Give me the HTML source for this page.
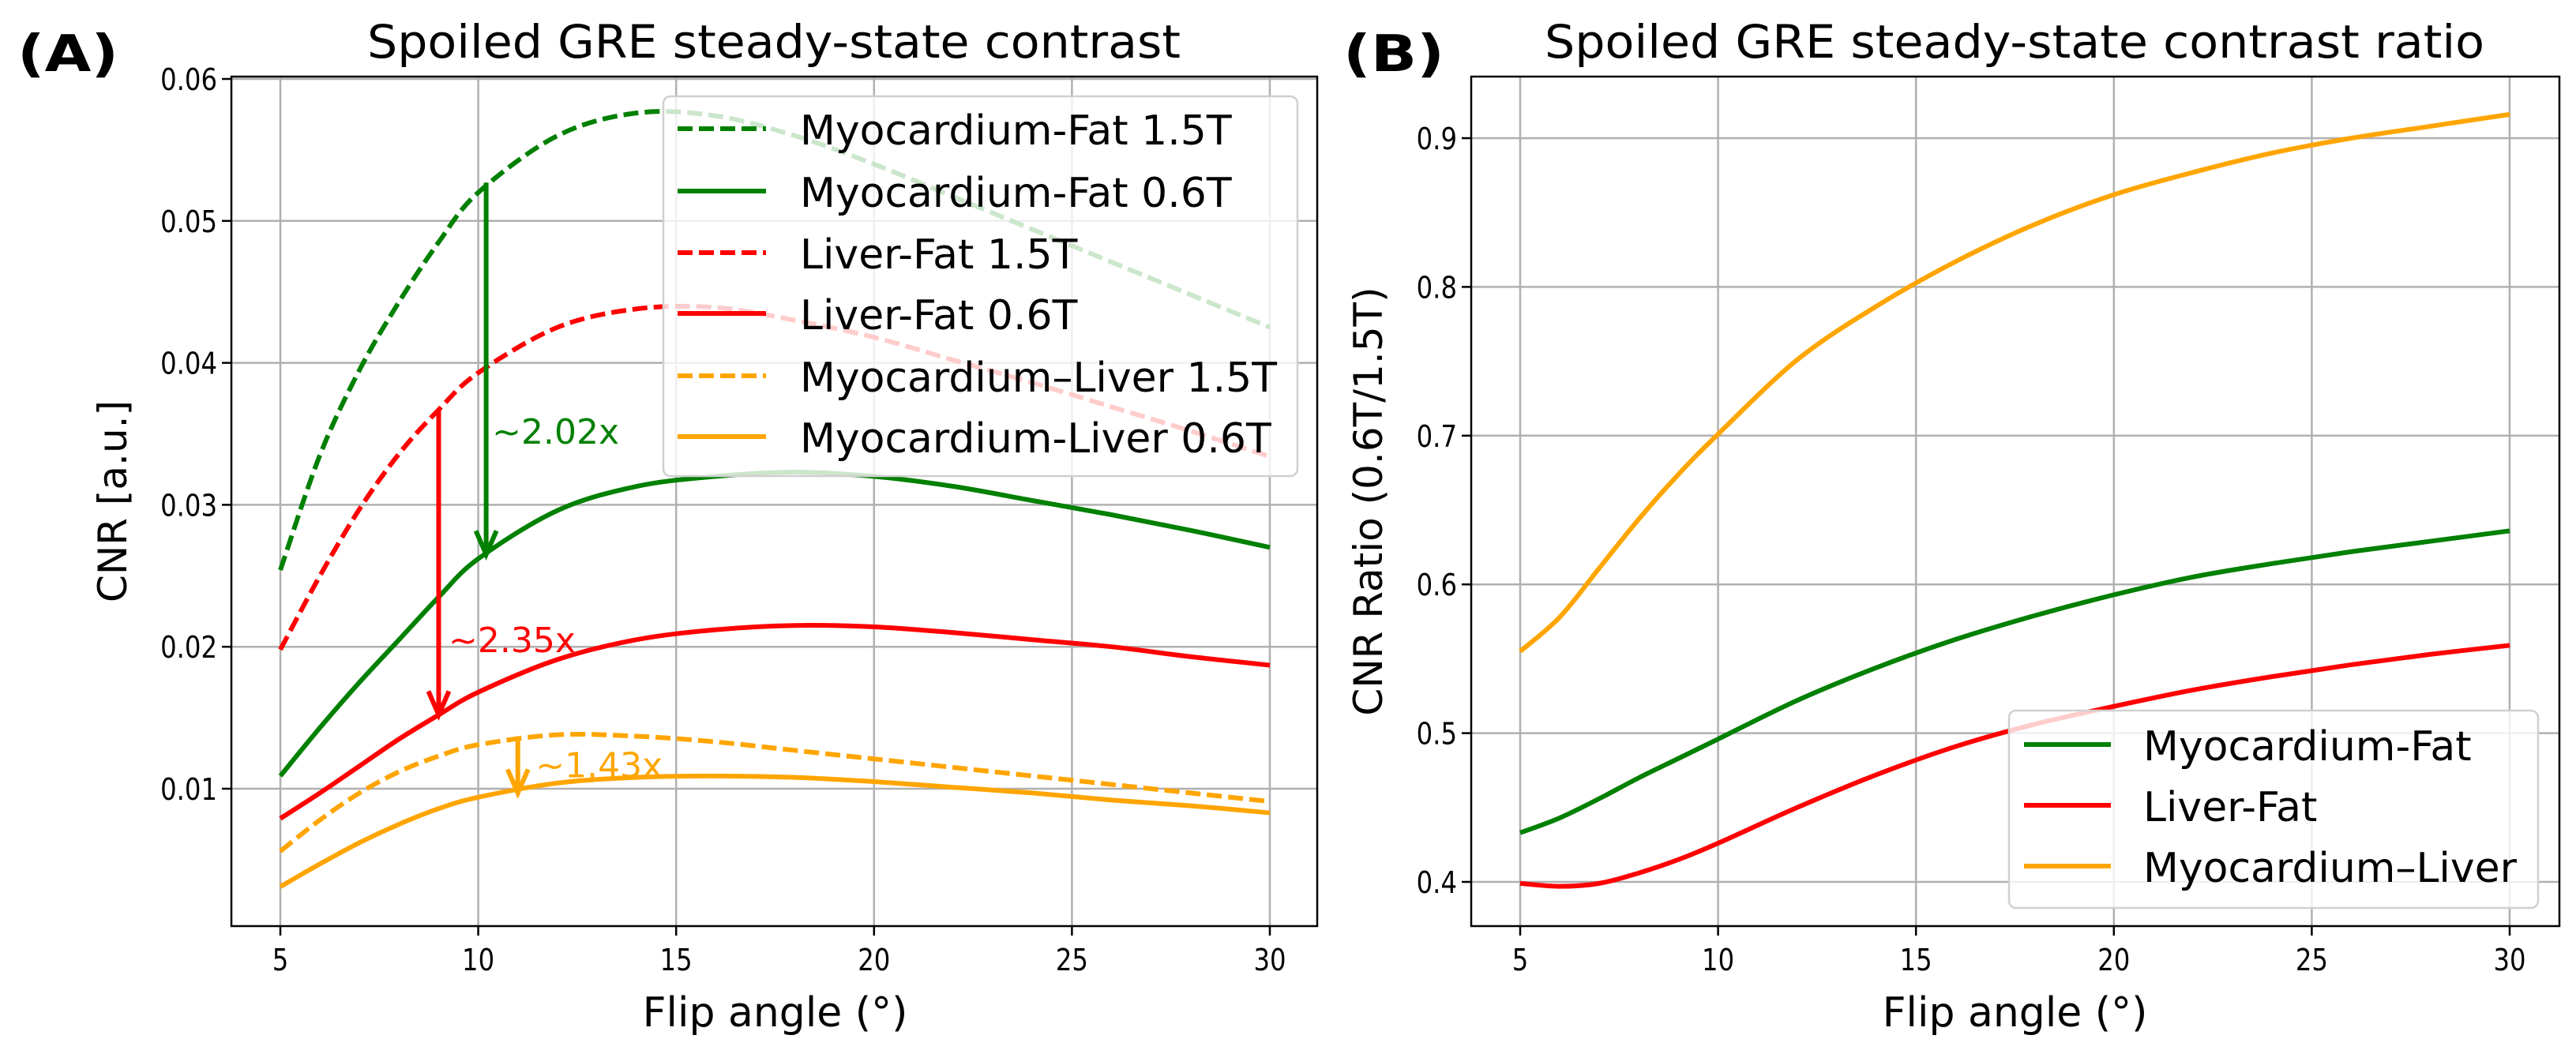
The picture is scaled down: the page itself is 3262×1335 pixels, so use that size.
<!DOCTYPE html>
<html><head><meta charset="utf-8"><style>
html,body{margin:0;padding:0;background:#fff}
svg{display:block;font-family:"DejaVu Sans","Liberation Sans",sans-serif}
</style></head><body>
<svg id="fig" width="3262" height="1335" viewBox="0 0 3262 1335" xmlns="http://www.w3.org/2000/svg">
<rect width="3262" height="1335" fill="#fff"/>
<g id="pa"></g>
<g id="pb"></g>
</svg>
<script>
// ---- data ----
const angles = [5,6,7,8,9,10,12,14,16,18,20,22,24,26,28,30];
const xTicks = [5,10,15,20,25,30];
const aYTicks = [0.01,0.02,0.03,0.04,0.05,0.06];
const aYTickLabels = ["0.01","0.02","0.03","0.04","0.05","0.06"];
const bYTicks = [0.4,0.5,0.6,0.7,0.8,0.9];
const bYTickLabels = ["0.4","0.5","0.6","0.7","0.8","0.9"];
const myoFat15 = [0.0254,0.0335,0.0395,0.0443,0.0485,0.0520,0.0560,0.0576,0.0574,0.0560,0.0540,0.0517,0.0494,0.0471,0.0448,0.0425];
const myoFat06 = [0.0109,0.0143,0.0175,0.0205,0.0235,0.0262,0.0296,0.0313,0.0320,0.0323,0.0320,0.0313,0.0303,0.0293,0.0282,0.0270];
const livFat15 = [0.0198,0.0250,0.0297,0.0336,0.0367,0.0393,0.0425,0.0438,0.0439,0.0430,0.0418,0.0402,0.0386,0.0369,0.0352,0.0334];
const livFat06 = [0.0079,0.0097,0.0116,0.0135,0.0152,0.0168,0.0191,0.0205,0.0212,0.0215,0.0214,0.0210,0.0205,0.0200,0.0193,0.0187];
const myoLiv15 = [0.0056,0.0078,0.0097,0.0112,0.0123,0.0131,0.0138,0.0137,0.0133,0.0127,0.0121,0.0115,0.0109,0.0103,0.0097,0.0091];
const myoLiv06 = [0.0031,0.0047,0.0062,0.0075,0.0086,0.0094,0.0104,0.0108,0.0109,0.0108,0.0105,0.0101,0.0097,0.0092,0.0088,0.0083];
const ratioMyoFat = [0.433,0.443,0.456,0.470,0.483,0.496,0.522,0.544,0.563,0.579,0.593,0.605,0.614,0.622,0.629,0.636];
const ratioLivFat = [0.399,0.397,0.399,0.406,0.415,0.426,0.450,0.472,0.491,0.506,0.518,0.529,0.538,0.546,0.553,0.559];
const ratioMyoLiv = [0.555,0.578,0.611,0.644,0.674,0.701,0.751,0.787,0.817,0.842,0.862,0.877,0.890,0.900,0.908,0.916];
const arrowX = [10.2, 9, 11];
const arrowFrom = [0.0527, 0.0367, 0.0137];
const arrowTo = [0.0265, 0.0152, 0.0097];
const arrowLabels = ["~2.02x","~2.35x","~1.43x"];
const arrowLabelX = [10.35, 9.25, 11.45];
const arrowLabelY = [0.0352, 0.0205, 0.0117];

const NS="http://www.w3.org/2000/svg";
function el(parent,tag,attrs,text){const e=document.createElementNS(NS,tag);for(const k in attrs)e.setAttribute(k,attrs[k]);if(text!==undefined)e.textContent=text;parent.appendChild(e);return e;}
function smoothPath(xs,ys){let d=`M${xs[0]},${ys[0]}`;for(let i=0;i<xs.length-1;i++){const x0=xs[Math.max(i-1,0)],y0=ys[Math.max(i-1,0)],x1=xs[i],y1=ys[i],x2=xs[i+1],y2=ys[i+1],x3=xs[Math.min(i+2,xs.length-1)],y3=ys[Math.min(i+2,xs.length-1)];d+=` C${x1+(x2-x0)/6},${y1+(y2-y0)/6} ${x2-(x3-x1)/6},${y2-(y3-y1)/6} ${x2},${y2}`;}return d;}
const GREEN="#008000",RED="#ff0000",ORANGE="#ffa500";
const LW=6, DASH='19,8';

function panel(g,cfg){
  const {L,R,T,B,sx,sy}=cfg;
  xTicks.forEach(t=>{const x=sx(t);
    const gl=el(g,'line',{x1:x,x2:x,y1:T,y2:B,stroke:'#b0b0b0','stroke-width':2.5});
    
    
    el(g,'line',{x1:x,x2:x,y1:B,y2:B+12,stroke:'#000','stroke-width':2.5});
    const tl=el(g,'text',{x:x,y:B+56,'font-size':38,'text-anchor':'middle',transform:`translate(${x},0) scale(0.85,1) translate(${-x},0)`},String(t));
    
    
  });
  cfg.yt.forEach((t,i)=>{const y=sy(t);
    const gl=el(g,'line',{x1:L,x2:R,y1:y,y2:y,stroke:'#b0b0b0','stroke-width':2.5});
    
    
    el(g,'line',{x1:L-12,x2:L,y1:y,y2:y,stroke:'#000','stroke-width':2.5});
    const tx=L-18;
    const tl=el(g,'text',{x:tx,y:y+14,'font-size':38,'text-anchor':'end',transform:`translate(${tx},0) scale(0.85,1) translate(${-tx},0)`},cfg.ytl[i]);
    
    
  });
  cfg.series.forEach(s=>{
    const p=el(g,'path',{d:smoothPath(angles.map(sx),s.v.map(sy)),fill:'none',stroke:s.c,'stroke-width':LW,'stroke-dasharray':s.dash?DASH:'none'});
    
    
  });
  cfg.extra&&cfg.extra(g);
  const fr=el(g,'rect',{x:L,y:T,width:R-L,height:B-T,fill:'none',stroke:'#000','stroke-width':2.5});
  
  
  const lg=el(g,'g',{});
  
  
  const lb=cfg.legend;
  el(lg,'rect',{x:lb.x,y:lb.y,width:lb.w,height:lb.h,rx:9,fill:'#fff','fill-opacity':0.8,stroke:'#d0d0d0','stroke-width':2.5});
  cfg.series.forEach((s,i)=>{const y=lb.ys[i];
    const e=el(lg,'g',{});
    
    
    el(e,'line',{x1:lb.hx1,x2:lb.hx2,y1:y,y2:y,stroke:s.c,'stroke-width':LW,'stroke-dasharray':s.dash?DASH:'none'});
    el(e,'text',{x:lb.tx,y:y+20,'font-size':52},s.label);
  });
  const tt=el(g,'text',{x:cfg.tcx,y:73,'font-size':58,'text-anchor':'middle',textLength:cfg.tlen,lengthAdjust:'spacingAndGlyphs'},cfg.title);
  
  
  const xl=el(g,'text',{x:(sx(5)+sx(30))/2,y:1300,'font-size':52,'text-anchor':'middle'},'Flip angle (°)');
  
  
  const yl=el(g,'text',{x:0,y:0,'font-size':50,'text-anchor':'middle',transform:`translate(${cfg.ylx},${cfg.ylcy}) rotate(-90)`},cfg.ylabel);
  
  
  const pl=el(g,'text',{x:cfg.plx,y:90,'font-size':64,'font-weight':'bold',textLength:128,lengthAdjust:'spacingAndGlyphs'},cfg.plabel);
  
  
}

// Panel A
(function(){
  const L=293,R=1668,T=97,B=1173;
  const sx=v=>355+(v-5)*(1608-355)/25;
  const sy=v=>999-(v-0.01)*(999-100)/0.05;
  panel(document.getElementById('pa'),{L,R,T,B,sx,sy,yt:aYTicks,ytl:aYTickLabels,
    title:'Spoiled GRE steady-state contrast',tcx:980,tlen:1030,ylabel:'CNR [a.u.]',ylx:160,ylcy:635,plx:22,plabel:'(A)',
    series:[
      {name:'myocardium-fat-1.5t-line',v:myoFat15,c:GREEN,dash:true,label:'Myocardium-Fat 1.5T'},
      {name:'myocardium-fat-0.6t-line',v:myoFat06,c:GREEN,dash:false,label:'Myocardium-Fat 0.6T'},
      {name:'liver-fat-1.5t-line',v:livFat15,c:RED,dash:true,label:'Liver-Fat 1.5T'},
      {name:'liver-fat-0.6t-line',v:livFat06,c:RED,dash:false,label:'Liver-Fat 0.6T'},
      {name:'myocardium-liver-1.5t-line',v:myoLiv15,c:ORANGE,dash:true,label:'Myocardium–Liver 1.5T'},
      {name:'myocardium-liver-0.6t-line',v:myoLiv06,c:ORANGE,dash:false,label:'Myocardium-Liver 0.6T'}],
    legend:{x:840,y:122,w:803,h:481,ys:[163,242,320,397,476,553],hx1:858,hx2:970,tx:1013},
    extra:g=>{
      const cols=[GREEN,RED,ORANGE];
      arrowX.forEach((ax,i)=>{
        const x=sx(ax),y1=sy(arrowFrom[i]),y2=sy(arrowTo[i]);
        const a=el(g,'g',{});
        
        
        el(a,'line',{x1:x,x2:x,y1:y1,y2:y2-4,stroke:cols[i],'stroke-width':LW});
        el(a,'path',{d:`M${x-13},${y2-30} L${x},${y2} L${x+13},${y2-30}`,fill:'none',stroke:cols[i],'stroke-width':LW});
        const t=el(g,'text',{x:sx(arrowLabelX[i]),y:sy(arrowLabelY[i])+16,'font-size':44,fill:cols[i]},arrowLabels[i]);
        
        
      });
    }});
})();

// Panel B
(function(){
  const L=1863,R=3241,T=97,B=1173;
  const sx=v=>1925+(v-5)*(3178-1925)/25;
  const sy=v=>1117-(v-0.4)*(1117-175)/0.5;
  panel(document.getElementById('pb'),{L,R,T,B,sx,sy,yt:bYTicks,ytl:bYTickLabels,
    title:'Spoiled GRE steady-state contrast ratio',tcx:2551,tlen:1190,ylabel:'CNR Ratio (0.6T/1.5T)',ylx:1750,ylcy:635,plx:1701,plabel:'(B)',
    series:[
      {name:'myocardium-fat-ratio-line',v:ratioMyoFat,c:GREEN,dash:false,label:'Myocardium-Fat'},
      {name:'liver-fat-ratio-line',v:ratioLivFat,c:RED,dash:false,label:'Liver-Fat'},
      {name:'myocardium-liver-ratio-line',v:ratioMyoLiv,c:ORANGE,dash:false,label:'Myocardium–Liver'}],
    legend:{x:2544,y:900,w:670,h:250,ys:[943,1020,1097],hx1:2563,hx2:2673,tx:2714}});
})();
</script>
</body></html>
